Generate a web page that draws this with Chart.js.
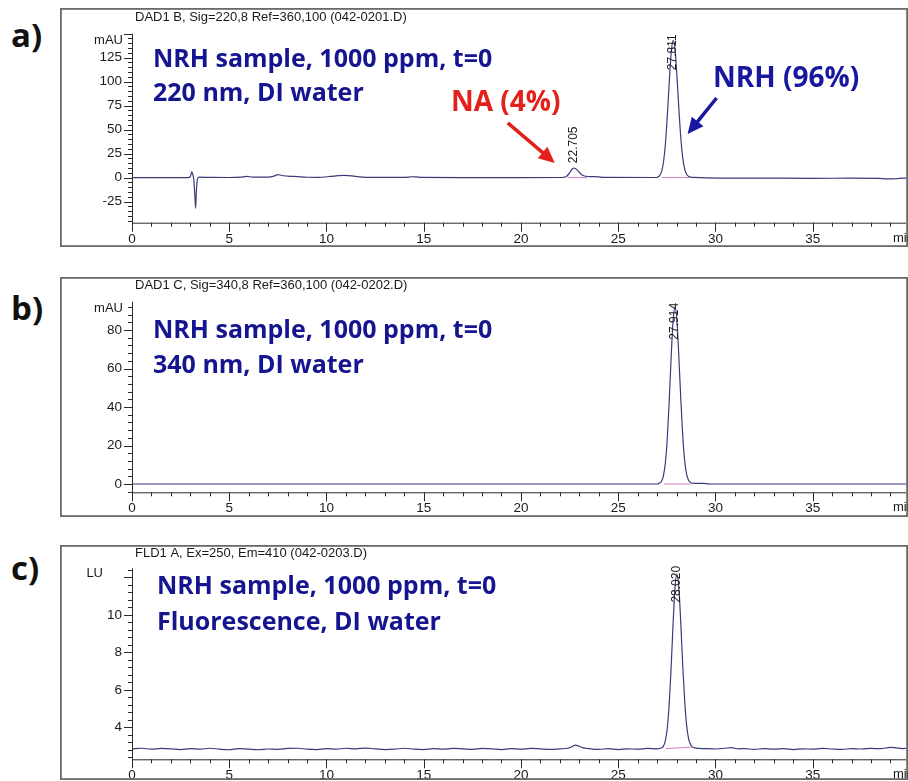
<!DOCTYPE html>
<html lang="en">
<head>
    <meta charset="UTF-8">
    <title>NRH sample, 1000 ppm, t=0 - HPLC chromatograms</title>
    <script src="https://cdn.jsdelivr.net/npm/chart.js"></script>
    <style>
        html, body {
            margin: 0;
            padding: 0;
            width: 908px;
            height: 781px;
            background: #fff;
            overflow: hidden;
        }
        .panel {
            position: absolute;
            left: 60px;
        }
        .tag {
            position: absolute;
            left: 11px;
            font: bold 33px "Open Sans", sans-serif;
            line-height: 32px;
            color: #111;
        }
    </style>
</head>
<body>
    <div class="tag" style="top:19px">a)</div>
    <div class="tag" style="top:292px">b)</div>
    <div class="tag" style="top:552px">c)</div>
    <canvas id="chartA" class="panel" style="top:8px" width="848" height="239"></canvas>
    <canvas id="chartB" class="panel" style="top:277px" width="848" height="240"></canvas>
    <canvas id="chartC" class="panel" style="top:545px" width="848" height="235"></canvas>
    <script>
        // retention time axis (min), shared by all three panels
        const xTicks = [0, 5, 10, 15, 20, 25, 30, 35];

        // a) DAD1 B, 220 nm
        const timeA = [0, 2.9, 3.0, 3.07, 3.13, 3.18, 3.23, 3.27, 3.31, 3.36, 3.45, 4.0, 5.0, 5.6, 5.9, 6.2, 7.0, 7.3, 7.5, 7.7,
            8.0, 8.5, 9.0, 9.6, 10.2, 10.6, 10.9, 11.3, 11.7, 12.3, 14.0, 14.4, 14.6, 14.9, 17.0, 20.0, 22.0, 22.2, 22.35, 22.45,
            22.55, 22.65, 22.72, 22.8, 22.9, 23.0, 23.1, 23.2, 23.35, 23.6, 24.0, 24.2, 27.0, 27.03, 27.13, 27.23, 27.33, 27.43, 27.53, 27.63,
            27.73, 27.83, 27.93, 28.03, 28.13, 28.23, 28.33, 28.43, 28.53, 28.63, 28.73, 28.88, 29.5, 31.0, 33.0, 35.0, 37.0, 38.4, 38.8, 39.3,
            39.6, 39.8];
        const signalA = [0, 0, 1, 6, 3, -3, -18, -32, -14, -2, 0.5, 0.2, 0.1, 0.5, 1.2, 0.6, 0.6, 1.6, 3.2, 2.2,
            1.6, 1.0, 0.4, 0.3, 1.2, 2.0, 2.4, 1.9, 0.8, 0.2, 0.2, 0.9, 0.7, 0.2, 0, 0, 0.1, 0.3, 1.5, 3.5,
            6.5, 9.2, 10, 9.5, 7.8, 5.5, 3.5, 2.2, 1.4, 1.0, 0.8, 0.2, 0.1, 0.6, 2.0, 6.3, 16.3, 35.6, 65.5, 101.1,
            131.1, 143, 132, 103, 68.5, 39, 19, 8, 3.2, 1.2, 0.5, 0.2, -0.3, -0.5, -0.6, -0.7, -0.6, -0.8, -1.4, -1.2,
            -0.6, -0.5];
        const intTimeA = [22.4, 23.4, null, 27.25, 28.65];
        const intSignalA = [0, 0, null, 0, 0];
        const yTicksA = [-25, 0, 25, 50, 75, 100, 125];
        const peakRtA = ['22.705', '27.811'];
        const peakLabelAtA = [15, 112];

        // b) DAD1 C, 340 nm
        const timeB = [0, 10, 20, 27.0, 27.12, 27.22, 27.32, 27.42, 27.52, 27.62, 27.72, 27.82, 27.92, 28.02, 28.12, 28.22, 28.32, 28.42,
            28.52, 28.62, 28.72, 28.82, 29.0, 29.4, 29.6, 30.0, 39.8];
        const signalB = [0, 0, 0, 0, 0.4, 1.3, 4.0, 10.5, 22.9, 42.1, 65.0, 84.4, 92, 85, 66, 44, 25, 12,
            5, 2, 0.8, 0.4, 0.3, 0.3, 0.1, 0, 0];
        const intTimeB = [27.35, 28.75];
        const intSignalB = [0, 0];
        const yTicksB = [0, 20, 40, 60, 80];
        const peakRtB = ['27.914'];
        const peakLabelAtB = [75];

        // c) FLD1 A, fluorescence
        const timeC = [0, 0.5, 1, 1.5, 2, 2.5, 3, 3.5, 4, 4.5, 5, 5.5, 6, 6.5, 7, 7.5, 8, 8.5, 9, 9.5,
            10, 10.5, 11, 11.5, 12, 12.5, 13, 13.5, 14, 14.5, 15, 15.5, 16, 16.5, 17, 17.5, 18, 18.5, 19, 19.5,
            20, 20.5, 21, 21.5, 22, 22.4, 22.65, 22.8, 22.95, 23.2, 23.5, 24, 24.5, 25, 25.5, 26, 26.5, 27,
            27.22, 27.32, 27.42, 27.52, 27.62, 27.72, 27.82, 27.92, 28.02, 28.12, 28.22, 28.32, 28.42, 28.52, 28.62, 28.72, 28.82, 28.95,
            29.5, 30, 30.5, 30.8, 31.2, 31.5, 32, 32.5, 33, 33.5, 34, 34.5, 35, 35.5, 36, 36.5, 37, 37.5, 38, 38.5,
            39, 39.3, 39.6, 39.8];
        const signalC = [2.85, 2.88, 2.83, 2.87, 2.85, 2.81, 2.86, 2.83, 2.88, 2.83, 2.80, 2.86, 2.83, 2.80, 2.84, 2.82, 2.87, 2.88, 2.83, 2.81,
            2.86, 2.83, 2.88, 2.85, 2.89, 2.85, 2.81, 2.83, 2.88, 2.83, 2.81, 2.86, 2.83, 2.87, 2.85, 2.82, 2.87, 2.85, 2.81, 2.86,
            2.83, 2.87, 2.85, 2.82, 2.85, 2.88, 2.98, 3.05, 3.0, 2.9, 2.86, 2.82, 2.86, 2.81, 2.85, 2.83, 2.87, 2.85,
            2.89, 2.98, 3.26, 3.92, 5.18, 7.13, 9.46, 11.42, 12.2, 11.45, 9.55, 7.3, 5.4, 4.1, 3.4, 3.08, 2.95, 2.9,
            2.86, 2.84, 2.88, 2.91, 2.85, 2.86, 2.82, 2.86, 2.83, 2.86, 2.81, 2.85, 2.83, 2.87, 2.84, 2.82, 2.86, 2.84, 2.87, 2.86,
            2.93, 2.9, 2.86, 2.88];
        const intTimeC = [27.45, 28.9];
        const intSignalC = [2.86, 2.95];
        const yTicksC = [4, 6, 8, 10];
        const peakRtC = ['28.020'];
        const peakLabelAtC = [10.66];

        const NAVY = '#15158f';
        const tickFont = { family: '"Liberation Sans", Arial, sans-serif', size: 13.5 };

        // frame, axes with major/minor ticks, header and annotations
        const hplcPlugin = {
            id: 'hplc',
            afterDraw(chart, args, o) {
                const ctx = chart.ctx;
                const a = chart.chartArea;
                const xs = chart.scales.x, ys = chart.scales.y;
                ctx.save();

                ctx.strokeStyle = '#6a6a6a';
                ctx.lineWidth = 1.8;
                ctx.strokeRect(0.9, 0.9, chart.width - 1.8, chart.height - 1.8);

                ctx.strokeStyle = '#2a2a2a';
                ctx.lineWidth = 1;
                ctx.beginPath();
                ctx.moveTo(a.left + 0.5, a.top);
                ctx.lineTo(a.left + 0.5, a.bottom + 0.5);
                ctx.lineTo(a.right, a.bottom + 0.5);
                for (let k = Math.ceil(o.yMin / o.yMinor); k * o.yMinor <= o.yMax; k++) {
                    const v = k * o.yMinor;
                    const major = Math.abs(v / o.yMajor - Math.round(v / o.yMajor)) < 1e-6;
                    const py = Math.round(ys.getPixelForValue(v)) + 0.5;
                    ctx.moveTo(a.left, py);
                    ctx.lineTo(a.left - (major ? 8 : 4), py);
                }
                for (let k = 0; k <= 39; k++) {
                    const px = Math.round(xs.getPixelForValue(k)) + 0.5;
                    ctx.moveTo(px, a.bottom);
                    ctx.lineTo(px, a.bottom + (k % 5 === 0 ? 9 : 4));
                }
                ctx.stroke();

                ctx.fillStyle = '#1a1a1a';
                ctx.font = '13px "Liberation Sans", Arial, sans-serif';
                ctx.textBaseline = 'middle';
                ctx.textAlign = 'left';
                ctx.fillText(o.title, 75, o.titleY);
                ctx.fillText('min', a.right - 13, a.bottom + 15.5);
                ctx.textAlign = 'right';
                ctx.fillText(o.unit, o.unitX, o.unitY);

                // retention time labels, written upward from above each apex
                ctx.font = '12px "Liberation Sans", Arial, sans-serif';
                o.peakRt.forEach((rt, i) => {
                    ctx.save();
                    ctx.translate(xs.getPixelForValue(parseFloat(rt)), ys.getPixelForValue(o.peakLabelAt[i]));
                    ctx.rotate(-Math.PI / 2);
                    ctx.textAlign = 'left';
                    ctx.fillText(rt, 0, 0);
                    ctx.restore();
                });

                ctx.textAlign = 'left';
                ctx.textBaseline = 'alphabetic';
                ctx.font = 'bold 25px "Open Sans", sans-serif';
                ctx.fillStyle = NAVY;
                o.notes.forEach((line, i) => ctx.fillText(line, o.noteX, o.noteY[i]));

                (o.callouts || []).forEach(c => {
                    ctx.font = 'bold 28px "Open Sans", sans-serif';
                    ctx.fillStyle = c.color;
                    ctx.fillText(c.text, c.tx, c.ty);
                    const x1 = xs.getPixelForValue(c.from[0]), y1 = ys.getPixelForValue(c.from[1]);
                    const x2 = xs.getPixelForValue(c.to[0]), y2 = ys.getPixelForValue(c.to[1]);
                    const ang = Math.atan2(y2 - y1, x2 - x1);
                    const cs = Math.cos(ang), sn = Math.sin(ang);
                    ctx.strokeStyle = c.color;
                    ctx.lineWidth = 3.5;
                    ctx.beginPath();
                    ctx.moveTo(x1, y1);
                    ctx.lineTo(x2 - 12 * cs, y2 - 12 * sn);
                    ctx.stroke();
                    ctx.beginPath();
                    ctx.moveTo(x2, y2);
                    ctx.lineTo(x2 - 16 * cs + 7.5 * sn, y2 - 16 * sn - 7.5 * cs);
                    ctx.lineTo(x2 - 16 * cs - 7.5 * sn, y2 - 16 * sn + 7.5 * cs);
                    ctx.closePath();
                    ctx.fill();
                });
                ctx.restore();
            }
        };

        function buildChart(id, cfg) {
            const trace = cfg.time.map((t, i) => ({ x: t, y: cfg.signal[i] }));
            const baseline = cfg.intTime.map((t, i) => (t === null ? { x: null, y: null } : { x: t, y: cfg.intSignal[i] }));
            return new Chart(document.getElementById(id), {
                type: 'scatter',
                data: {
                    datasets: [{
                        data: baseline,
                        showLine: true,
                        spanGaps: false,
                        borderColor: '#d67bbd',
                        borderWidth: 1,
                        pointRadius: 0
                    }, {
                        data: trace,
                        showLine: true,
                        borderColor: '#3a3a7c',
                        borderWidth: 1.2,
                        pointRadius: 0,
                        cubicInterpolationMode: 'monotone'
                    }]
                },
                options: {
                    responsive: false,
                    animation: false,
                    events: [],
                    layout: { padding: { top: cfg.padTop, right: 2, bottom: 0, left: 0 } },
                    plugins: {
                        legend: { display: false },
                        tooltip: { enabled: false },
                        hplc: cfg
                    },
                    scales: {
                        x: {
                            type: 'linear',
                            min: 0,
                            max: 39.8,
                            grid: { display: false, drawTicks: false },
                            border: { display: false },
                            afterBuildTicks: s => { s.ticks = xTicks.map(v => ({ value: v })); },
                            afterFit: s => { s.height = cfg.xAxisH; },
                            ticks: { padding: 8, maxRotation: 0, font: tickFont, color: '#1a1a1a' }
                        },
                        y: {
                            min: cfg.yMin,
                            max: cfg.yMax,
                            grid: { display: false, drawTicks: false },
                            border: { display: false },
                            afterBuildTicks: s => { s.ticks = cfg.yTicks.map(v => ({ value: v })); },
                            afterFit: s => { s.width = 72; },
                            ticks: { padding: 10, font: tickFont, color: '#1a1a1a' }
                        }
                    }
                },
                plugins: [hplcPlugin]
            });
        }

        buildChart('chartA', {
            time: timeA, signal: signalA, intTime: intTimeA, intSignal: intSignalA,
            yTicks: yTicksA, yMin: -47, yMax: 150, yMinor: 5, yMajor: 25,
            padTop: 25.7, xAxisH: 24.3,
            title: 'DAD1 B, Sig=220,8 Ref=360,100 (042-0201.D)', titleY: 9,
            unit: 'mAU', unitX: 63, unitY: 32,
            peakRt: peakRtA, peakLabelAt: peakLabelAtA,
            notes: ['NRH sample, 1000 ppm, t=0', '220 nm, DI water'], noteX: 93, noteY: [59.3, 93],
            callouts: [
                { text: 'NA (4%)', tx: 391, ty: 103, color: '#e3201b', from: [19.32, 57], to: [21.74, 15.3] },
                { text: 'NRH (96%)', tx: 653, ty: 79, color: '#1717a0', from: [30.06, 83], to: [28.57, 45.5] }
            ]
        });

        buildChart('chartB', {
            time: timeB, signal: signalB, intTime: intTimeB, intSignal: intSignalB,
            yTicks: yTicksB, yMin: -4.3, yMax: 94.7, yMinor: 4, yMajor: 20,
            padTop: 24.7, xAxisH: 24.7,
            title: 'DAD1 C, Sig=340,8 Ref=360,100 (042-0202.D)', titleY: 8,
            unit: 'mAU', unitX: 63, unitY: 31,
            peakRt: peakRtB, peakLabelAt: peakLabelAtB,
            notes: ['NRH sample, 1000 ppm, t=0', '340 nm, DI water'], noteX: 93, noteY: [61.3, 96.3]
        });

        buildChart('chartC', {
            time: timeC, signal: signalC, intTime: intTimeC, intSignal: intSignalC,
            yTicks: yTicksC, yMin: 2.29, yMax: 12.49, yMinor: 0.4, yMajor: 2,
            padTop: 23.3, xAxisH: 20.7,
            title: 'FLD1 A, Ex=250, Em=410 (042-0203.D)', titleY: 8,
            unit: 'LU', unitX: 43, unitY: 28,
            peakRt: peakRtC, peakLabelAt: peakLabelAtC,
            notes: ['NRH sample, 1000 ppm, t=0', 'Fluorescence, DI water'], noteX: 97, noteY: [49, 85]
        });
    </script>
</body>
</html>
